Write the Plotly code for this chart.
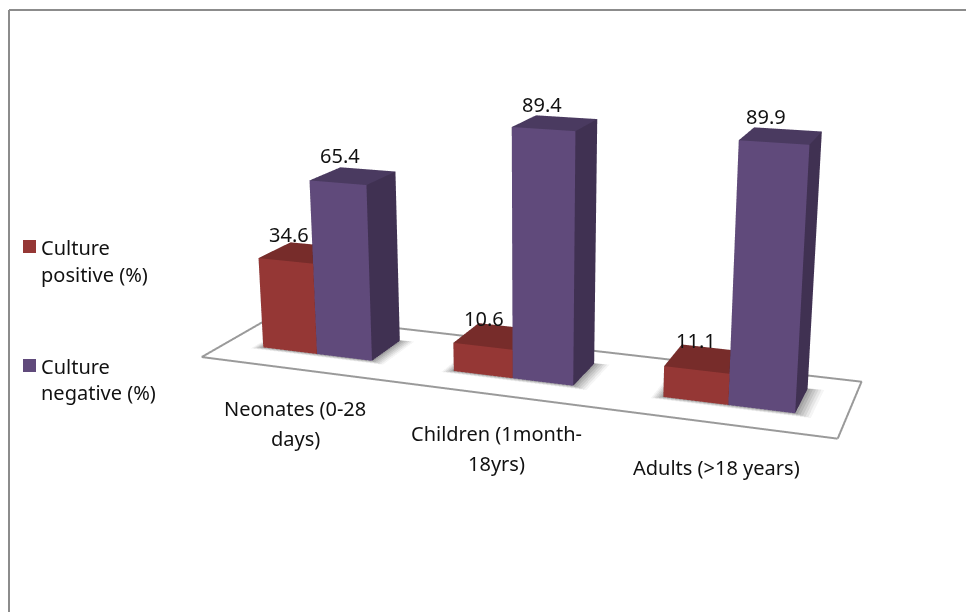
import plotly.graph_objects as go

# Chart data
categories = ["Neonates (0-28\ndays)", "Children (1month-\n18yrs)", "Adults (>18 years)"]
culture_positive = [34.6, 10.6, 11.1]
culture_negative = [65.4, 89.4, 89.9]
series_names = ["Culture\npositive (%)", "Culture\nnegative (%)"]

# Page and scene size; perspective strength follows the scene height
PAGE_W, PAGE_H = 1060, 1800
FONT = dict(family="Noto Sans", size=20, color="#111111")

RED = dict(front="#953735", top="#772C2A", side="#6B2725")
PURPLE = dict(front="#604A7B", top="#4A3A60", side="#403152")

BAR_W = 0.291
CLUSTER_CENTRE = 0.495
BAR_Y = (0.3125, 0.75)
Z_MAX = 100
# The floor is a parallelogram: category position drifts with depth
DEPTH_SHEAR = -0.2857

# Offsets (px) of the category captions from the floor's front edge
CAPTION_SHIFT = [(0, -39), (0, -39), (-1, -44)]
LINE_GAP = 30
# Offsets (px) of the value labels from the bar-top centres, positive then negative series
VALUE_SHIFT = [[(-12, 18), (-11, 18), (-9, 18)], [(-13, 20), (-13, 19), (-15, 19)]]


def skew(x, y):
    return x + DEPTH_SHEAR * y


def cuboid(x0, x1, y0, y1, z0, z1):
    """Vertices and triangles (with face name) for one bar."""
    xs = [skew(x0, y0), skew(x1, y0), skew(x1, y1), skew(x0, y1)] * 2
    ys = [y0, y0, y1, y1] * 2
    zs = [z0] * 4 + [z1] * 4
    tris = [
        (0, 1, 5, "front"), (0, 5, 4, "front"),
        (1, 2, 6, "side"), (1, 6, 5, "side"),
        (4, 5, 6, "top"), (4, 6, 7, "top"),
        (3, 0, 4, "side"), (3, 4, 7, "side"),
        (2, 3, 7, "side"), (2, 7, 6, "side"),
        (0, 3, 2, "side"), (0, 2, 1, "side"),
    ]
    return xs, ys, zs, tris


FLAT = dict(ambient=1, diffuse=0, specular=0, roughness=1, fresnel=0)


def add_bars(fig, lefts, values, colors):
    X, Y, Z, I, J, K, C = [], [], [], [], [], [], []
    for left, value in zip(lefts, values):
        xs, ys, zs, tris = cuboid(left, left + BAR_W, BAR_Y[0], BAR_Y[1], 0, value)
        base = len(X)
        X += xs; Y += ys; Z += zs
        for a, b, c, face in tris:
            I.append(base + a); J.append(base + b); K.append(base + c)
            C.append(colors[face])
    fig.add_trace(go.Mesh3d(x=X, y=Y, z=Z, i=I, j=J, k=K, facecolor=C, flatshading=True,
                            lighting=FLAT, hoverinfo="skip", showscale=False))


def add_shadow(fig, x0, x1):
    # Soft contact shadow: stacked translucent quads lying on the floor
    for grow, alpha in [(0.06, 0.06), (0.05, 0.09), (0.04, 0.11), (0.03, 0.13), (0.02, 0.15), (0.01, 0.17)]:
        a, b = x0 - grow * 0.8, x1 + grow * 1.2
        c, d = BAR_Y[0] - grow * 0.8, BAR_Y[1] + grow * 0.3
        fig.add_trace(go.Mesh3d(x=[skew(a, c), skew(b, c), skew(b, d), skew(a, d)], y=[c, c, d, d], z=[0.05] * 4,
                                i=[0, 0], j=[1, 2], k=[2, 3], color="#555555", opacity=alpha,
                                flatshading=True, lighting=FLAT, hoverinfo="skip"))


fig = go.Figure()

n = len(categories)
pos_left = [i + CLUSTER_CENTRE - BAR_W for i in range(n)]
neg_left = [i + CLUSTER_CENTRE for i in range(n)]

# Floor outline
fig.add_trace(go.Scatter3d(x=[skew(0, 0), skew(n, 0), skew(n, 1), skew(0, 1), skew(0, 0)],
                           y=[0, 0, 1, 1, 0], z=[0] * 5, mode="lines",
                           line=dict(color="#9A9A9A", width=4), hoverinfo="skip"))

for i in range(n):
    add_shadow(fig, pos_left[i], neg_left[i] + BAR_W)
add_bars(fig, pos_left, culture_positive, RED)
add_bars(fig, neg_left, culture_negative, PURPLE)

scene_notes = []
mid_y = sum(BAR_Y) / 2
for s, (lefts, values) in enumerate(((pos_left, culture_positive), (neg_left, culture_negative))):
    for i, (left, value) in enumerate(zip(lefts, values)):
        dx, dy = VALUE_SHIFT[s][i]
        scene_notes.append(dict(x=skew(left + BAR_W / 2, mid_y), y=mid_y, z=value, text=f"{value}",
                                showarrow=False, xshift=dx, yshift=dy, font=FONT))
for i, label in enumerate(categories):
    dx, dy = CAPTION_SHIFT[i]
    for j, line in enumerate(label.split("\n")):
        scene_notes.append(dict(x=i + 0.5, y=0, z=0, text=line, showarrow=False,
                                xshift=dx, yshift=dy - j * LINE_GAP, font=FONT))

hidden = dict(visible=False, showgrid=False, zeroline=False, showspikes=False)
fig.update_layout(
    width=PAGE_W, height=PAGE_H, margin=dict(l=0, r=0, t=0, b=0, pad=0),
    paper_bgcolor="white", showlegend=False, hovermode=False,
    scene=dict(
        domain=dict(x=[0, 1], y=[0, 1]),
        xaxis=dict(range=[DEPTH_SHEAR, n], **hidden),
        yaxis=dict(range=[0, 1], **hidden),
        zaxis=dict(range=[0, Z_MAX], **hidden),
        aspectmode="manual",
        aspectratio=dict(x=1.634, y=0.48, z=0.56),
        camera=dict(
            projection=dict(type="perspective"),
            up=dict(x=0, y=0, z=1),
            eye=dict(x=2.3106, y=-4.07, z=0.72),
            center=dict(x=0.2318, y=-0.384, z=-1.325),
        ),
        annotations=scene_notes,
    ),
)


def px(x):
    return x / PAGE_W


def py(y):
    return 1 - y / PAGE_H


# Chart-area frame: only its top and left edges fall inside the window
for x0, y0, x1, y1 in [(9, 10, 966, 10), (9, 10, 9, 612)]:
    fig.add_shape(type="line", xref="paper", yref="paper", x0=px(x0), y0=py(y0), x1=px(x1), y1=py(y1),
                  line=dict(color="#8C8C8C", width=2))

# Legend
legend_rows = [(240, RED["front"], 247), (359, PURPLE["front"], 366)]
for (top, colour, text_y), name in zip(legend_rows, series_names):
    fig.add_shape(type="rect", xref="paper", yref="paper", x0=px(23), x1=px(36), y0=py(top), y1=py(top + 13),
                  fillcolor=colour, line_width=0)
    for j, line in enumerate(name.split("\n")):
        fig.add_annotation(xref="paper", yref="paper", x=px(39), y=py(text_y + j * 27), text=line,
                           showarrow=False, xanchor="left", yanchor="middle", font=FONT)

fig.write_html("out.html", config=dict(displayModeBar=False),
               post_script="document.documentElement.style.overflow='hidden';document.body.style.overflow='hidden';")
